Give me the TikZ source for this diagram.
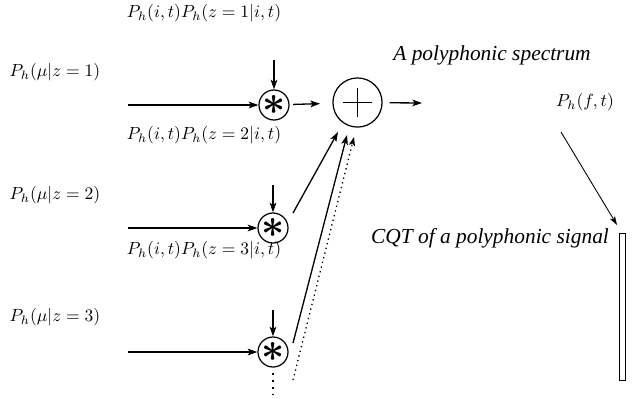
\documentclass[tikz,border=0pt]{standalone}
\usepackage{amsmath,amssymb}
\usepackage{fontspec}
\newfontfamily\timesit{Liberation Serif Italic}
\usetikzlibrary{arrows.meta}
\begin{document}
\begin{tikzpicture}[x=0.57pt,y=-0.57pt,
  lbl/.style={inner sep=0pt, font=\fontsize{10}{12}\selectfont},
  itlbl/.style={inner sep=0pt, font=\fontsize{12.2}{14}\selectfont\timesit},
  mult/.style={circle, draw, line width=0.7pt, minimum size=17pt, inner sep=0pt},
  summ/.style={circle, draw, line width=0.7pt, minimum size=28pt, inner sep=0pt},
  arr/.style={line width=0.75pt, -{Stealth[length=5.5pt,width=3.8pt,inset=1.3pt]}},
  arrthin/.style={line width=0.5pt, -{Stealth[length=5pt,width=3.2pt,inset=1.2pt]}},
  dotarr/.style={line width=0.75pt, dotted, -{Stealth[length=5pt,width=3.6pt,inset=1.2pt]}},
  dotln/.style={line width=1.1pt, dash pattern=on 1pt off 3pt}
]
\useasboundingbox (0,0) rectangle (641,398);
% labels
\node[lbl] (t1) at (204,13) {$P_h(i,t)P_h(z=1|i,t)$};
\node[lbl] (m1) at (55,72) {$P_h(\mu|z=1)$};
\node[lbl] (t2) at (204,135) {$P_h(i,t)P_h(z=2|i,t)$};
\node[lbl] (m2) at (55,195) {$P_h(\mu|z=2)$};
\node[lbl] (t3) at (204,250) {$P_h(i,t)P_h(z=3|i,t)$};
\node[lbl] (m3) at (55,317) {$P_h(\mu|z=3)$};
\node[itlbl] (spec) at (492,55) {A polyphonic spectrum};
\node[lbl] (pf) at (585,102) {$P_h(f,t)$};
\node[itlbl] (cqt) at (490,238) {CQT of a polyphonic signal};
% multipliers
\node[mult] (c1) at (274,105) {\scalebox{2.3}{$\boldsymbol{\ast}$}};
\node[mult] (c2) at (273,228) {\scalebox{2.3}{$\boldsymbol{\ast}$}};
\node[mult] (c3) at (273,352) {\scalebox{2.3}{$\boldsymbol{\ast}$}};
% sum
\node[summ] (p) at (357.5,102.5) {};
\draw[line width=1.1pt] ([xshift=-8.5pt]p.center) -- ([xshift=8.5pt]p.center);
\draw[line width=1.1pt] ([yshift=-8.5pt]p.center) -- ([yshift=8.5pt]p.center);
% spectrum bar
\node[draw, line width=0.5pt, minimum width=3.4pt, minimum height=84pt, inner sep=0pt] (bar) at (622,307) {};
% coordinates
\coordinate (a1) at (128,105);
\coordinate (a2) at (128,228);
\coordinate (a3) at (128,352);
\coordinate (d1) at (274,60);
\coordinate (d2) at (273,185);
\coordinate (d3) at (273,310);
\coordinate (o) at (422,103);
\coordinate (s2) at (293,213);
\coordinate (e2) at (338,132);
\coordinate (s3) at (293,343);
\coordinate (e3) at (347,135);
\coordinate (s4) at (293,380);
\coordinate (e4) at (354,137);
\coordinate (fs) at (561,132);
\coordinate (fe) at (617,225);
\coordinate (v) at (273,394);
% arrows
\draw[arr] (a1) -- (c1);
\draw[arr] (a2) -- (c2);
\draw[arr] (a3) -- (c3);
\draw[arr] (d1) -- (c1);
\draw[arr] (d2) -- (c2);
\draw[arr] (d3) -- (c3);
\draw[arr, shorten <=2pt, shorten >=7pt] (c1) -- (p);
\draw[arr, shorten <=4pt] (p) -- (o);
\draw[arr] (s2) -- (e2);
\draw[arr] (s3) -- (e3);
\draw[dotarr] (s4) -- (e4);
\draw[arrthin] (fs) -- (fe);
\draw[dotln] ([yshift=-3pt]c3.south) -- (v);
\end{tikzpicture}
\end{document}
